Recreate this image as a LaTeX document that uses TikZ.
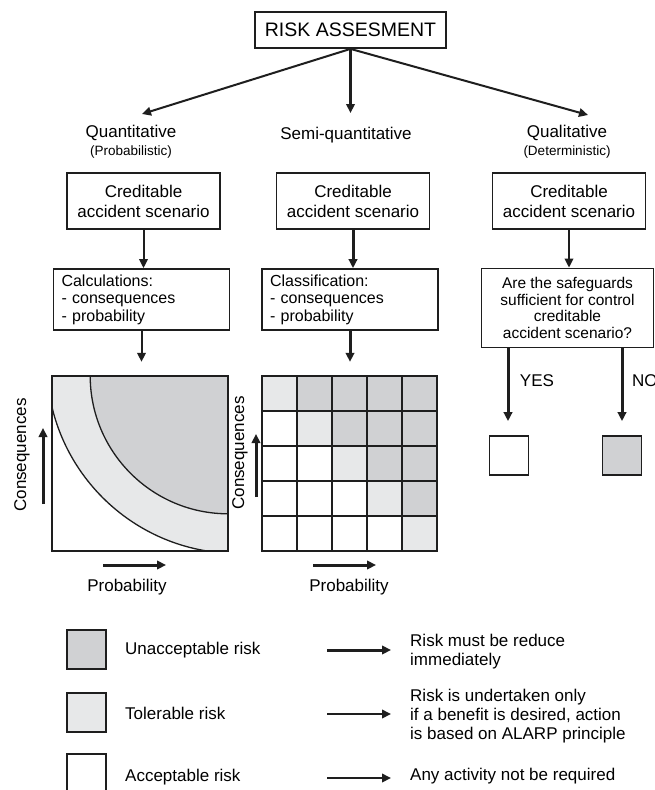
\documentclass[tikz,border=0pt]{standalone}
\usepackage{fontspec}
\setmainfont{Liberation Sans}
\usetikzlibrary{arrows.meta}
\definecolor{dk}{RGB}{208,209,211}
\definecolor{lt}{RGB}{231,232,233}
\definecolor{ln}{RGB}{30,30,30}
\begin{document}
\begin{tikzpicture}[x=1pt,y=-1pt,
  font=\fontsize{17}{20}\selectfont,
  box/.style={draw=ln, line width=1.8pt, fill=white, inner sep=0pt, align=center},
  cred/.style={box, minimum width=153pt, minimum height=56pt},
  listbox/.style={box, minimum width=176pt, minimum height=61pt, align=left, text width=160pt,
     font=\fontsize{16}{17.5}\selectfont},
  arr/.style={draw=ln, line width=2pt, -{Triangle[length=9pt,width=8.5pt]}},
  thickarr/.style={arr, line width=3pt},
  small/.style={font=\fontsize{13.5}{15}\selectfont},
  legsq/.style={draw=ln, line width=1.8pt, minimum width=39pt, minimum height=39pt, inner sep=0pt},
  legtxt/.style={anchor=west, align=left, inner sep=0pt, font=\fontsize{17}{19}\selectfont},
  chartframe/.style={minimum width=176pt, minimum height=175pt, inner sep=0pt}
]
\clip (0,0) rectangle (655,790);
\fill[white] (0,0) rectangle (655,790);

% top
\node[box, minimum width=191pt, minimum height=36pt, font=\fontsize{19.5}{22}\selectfont] (risk) at (350.5,30) {RISK ASSESMENT};
\node (quant) at (131,133) {Quantitative};
\node[small] (probl) at (131,152) {(Probabilistic)};
\node (semi) at (346,135) {Semi-quantitative};
\node (qual) at (567,133) {Qualitative};
\node[small] (det) at (567,152) {(Deterministic)};
\coordinate (qa) at (142,114);
\coordinate (sa) at (350.5,113);
\coordinate (qla) at (588,115);
\draw[arr] (risk.south) -- (qa);
\draw[thickarr] (risk.south) -- (sa);
\draw[arr] (risk.south) -- (qla);

% scenario boxes
\node[cred] (c1) at (143.5,201) {Creditable\\accident scenario};
\node[cred] (c2) at (353,201) {Creditable\\accident scenario};
\node[cred] (c3) at (569,201) {Creditable\\accident scenario};

% second level
\node[listbox] (calc) at (141.5,299.5) {Calculations:\\- consequences\\- probability};
\node[listbox] (class) at (350,299.5) {Classification:\\- consequences\\- probability};
\node[box, minimum width=172pt, minimum height=79pt, font=\fontsize{15.5}{16.5}\selectfont] (quest) at (567.5,308)
  {Are the safeguards\\sufficient for control\\creditable\\accident scenario?};

\draw[arr] (c1.south) -- (c1.south |- calc.north);
\draw[thickarr] (c2.south) -- (c2.south |- class.north);
\draw[arr] (c3.south) -- (c3.south |- quest.north);

% quantitative chart
\node[chartframe] (qchart) at (140,463.5) {};
\begin{scope}
  \clip (qchart.north west) rectangle (qchart.south east);
  \fill[lt] (237.5,362.75) circle[radius=190.7pt];
  \fill[dk] (qchart.north east) circle[radius=138pt];
  \draw[ln, line width=1.3pt] (237.5,362.75) circle[radius=190.7pt];
  \draw[ln, line width=1.3pt] (qchart.north east) circle[radius=138pt];
\end{scope}
\draw[ln, line width=2pt] (qchart.north west) rectangle (qchart.south east);
\draw[arr] (calc.south) -- ([yshift=14pt]qchart.north -| calc.south);

% semi-quantitative grid
\node[chartframe, minimum width=175pt] (schart) at (349.5,463.5) {};
\foreach \r in {0,...,4}{
  \foreach \c in {0,...,4}{
    \pgfmathtruncatemacro{\d}{\c-\r}
    \ifnum\d=0 \def\cc{lt}\else\ifnum\d>0 \def\cc{dk}\else\def\cc{white}\fi\fi
    \filldraw[fill=\cc, draw=ln, line width=1.4pt] (262+35*\c,376+35*\r) rectangle ++(35,35);
  }
}
\draw[ln, line width=2pt] (schart.north west) rectangle (schart.south east);
\draw[thickarr] (class.south) -- ([yshift=14pt]schart.north -| class.south);

% axis labels
\node[rotate=90] (cq1) at (22,455) {Consequences};
\coordinate (ua1) at (43,504); \coordinate (ub1) at (43,428);
\draw[thickarr] (ua1) -- (ub1);
\node[rotate=90] (cq2) at (240,453) {Consequences};
\coordinate (ua2) at (256,497); \coordinate (ub2) at (256,434);
\draw[thickarr] (ua2) -- (ub2);

\node (pr1) at (127,587) {Probability};
\coordinate (pa1) at (103,565); \coordinate (pb1) at (166,565);
\draw[thickarr] (pa1) -- (pb1);
\node (pr2) at (349,587) {Probability};
\coordinate (pa2) at (313,565); \coordinate (pb2) at (376,565);
\draw[thickarr] (pa2) -- (pb2);

% qualitative outcome
\coordinate (yq) at (508,347.5); \coordinate (nq) at (622,347.5);
\node[legsq, fill=white] (yesbox) at (509,455.5) {};
\node[legsq, fill=dk] (nobox) at (622,455.5) {};
\draw[thickarr] (yq) -- ([yshift=14pt]yesbox.north -| yq);
\draw[thickarr] (nq) -- ([yshift=14pt]nobox.north -| nq);
\node (yes) at (537,381) {YES};
\node[anchor=west, inner sep=0pt] (no) at (632,381) {NO};

% legend
\node[legsq, fill=dk] (l1) at (86.5,649.5) {};
\node[legsq, fill=lt] (l2) at (86.5,712.5) {};
\node[legsq, fill=white] (l3) at (86.5,773.5) {};
\node[legtxt] (t1) at (125,650) {Unacceptable risk};
\node[legtxt] (t2) at (125,713) {Tolerable risk};
\node[legtxt] (t3) at (125,777) {Acceptable risk};
\node[legtxt] (d1) at (410,652) {Risk must be reduce\\immediately};
\node[legtxt] (d2) at (410,716) {Risk is undertaken only\\if a benefit is desired, action\\is based on ALARP principle};
\node[legtxt] (d3) at (410,776) {Any activity not be required};
\coordinate (la1) at (327,650); \coordinate (la2) at (327,714); \coordinate (la3) at (327,778);
\draw[thickarr, shorten >=19pt] (la1) -- (d1.west |- la1);
\draw[arr, shorten >=19pt] (la2) -- (d2.west |- la2);
\draw[arr, shorten >=19pt] (la3) -- (d3.west |- la3);
\end{tikzpicture}
\end{document}
